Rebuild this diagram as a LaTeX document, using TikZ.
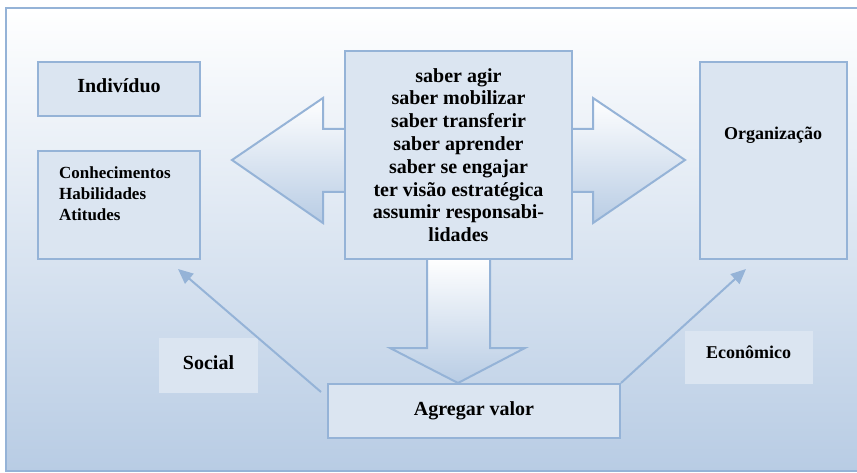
\documentclass[tikz,border=0pt]{standalone}
\usepackage{fontspec}
\setmainfont{Liberation Serif}
\usetikzlibrary{arrows.meta}
\definecolor{edgeblue}{HTML}{95B3D7}
\definecolor{boxfill}{HTML}{DBE5F1}
\definecolor{shadeblue}{HTML}{B8CCE4}

\begin{document}
\begin{tikzpicture}[x=1pt, y=-1pt, >={Triangle[length=15pt,width=13pt]},
  box/.style={draw=edgeblue, line width=2pt, fill=boxfill, inner sep=0pt},
  plainbox/.style={fill=boxfill, inner sep=0pt},
  txt/.style={font=\fontsize{20}{22.8}\selectfont\bfseries, inner sep=0pt},
  smalltxt/.style={font=\fontsize{18}{21}\selectfont\bfseries, inner sep=0pt},
  bigarrow/.style={draw=edgeblue, line width=2pt, top color=white, bottom color=shadeblue},
  link/.style={->, draw=edgeblue, line width=2pt}]
  \useasboundingbox (0,0) rectangle (857,473);
  % frame
  \draw[draw=edgeblue, line width=2pt, top color=white, bottom color=shadeblue]
    (6,8) rectangle (861,471);

  % block arrows
  \draw[bigarrow] (346,129) -- (323,129) -- (323,98) -- (232,160) -- (323,223)
    -- (323,192) -- (346,192) -- cycle;
  \draw[bigarrow] (571,129) -- (593,129) -- (593,98) -- (685,160) -- (593,223)
    -- (593,192) -- (571,192) -- cycle;
  \draw[bigarrow] (427,258) -- (427,348) -- (390,348) -- (458,383) -- (525,348)
    -- (490,348) -- (490,258) -- cycle;

  % boxes
  \node[box, minimum width=162pt, minimum height=54pt] (indiv) at (119,89) {};
  \node[txt, anchor=base] (indivtxt) at (119,93) {Indivíduo};

  \node[box, minimum width=162pt, minimum height=108pt] (conh) at (119,205) {};
  \node[txt, font=\fontsize{17}{21}\selectfont\bfseries, align=left, anchor=north west]
    (conhtxt) at (59,167) {Conhecimentos\\Habilidades\\Atitudes};

  \node[box, txt, align=center, minimum width=227pt, minimum height=208pt] (know)
    at (458.5,155) {saber agir\\saber mobilizar\\saber transferir\\saber aprender\\
    saber se engajar\\ter visão estratégica\\assumir responsabi-\\lidades};

  \node[box, minimum width=147pt, minimum height=197pt] (orga) at (773.5,160.5) {};
  \node[smalltxt, anchor=base] (orgatxt) at (773,140) {Organização};

  \node[box, txt, minimum width=292pt, minimum height=54pt] (agregar)
    at (474,411) {Agregar valor};

  \node[plainbox, minimum width=99pt, minimum height=55pt] (social) at (208.5,365.5) {};
  \node[txt, anchor=base] (socialtxt) at (208.5,369) {Social};

  \node[plainbox, minimum width=128pt, minimum height=53pt] (econ) at (749,357.5) {};
  \node[smalltxt, anchor=base] (econtxt) at (748.5,358) {Econômico};

  % value links
  \draw[link] ([xshift=-6pt,yshift=-9pt]agregar.north west)
    -- ([xshift=-23pt,yshift=-9pt]conh.south east);
  \draw[link] (agregar.north east) -- ([xshift=47pt,yshift=-9pt]orga.south west);
\end{tikzpicture}
\end{document}
